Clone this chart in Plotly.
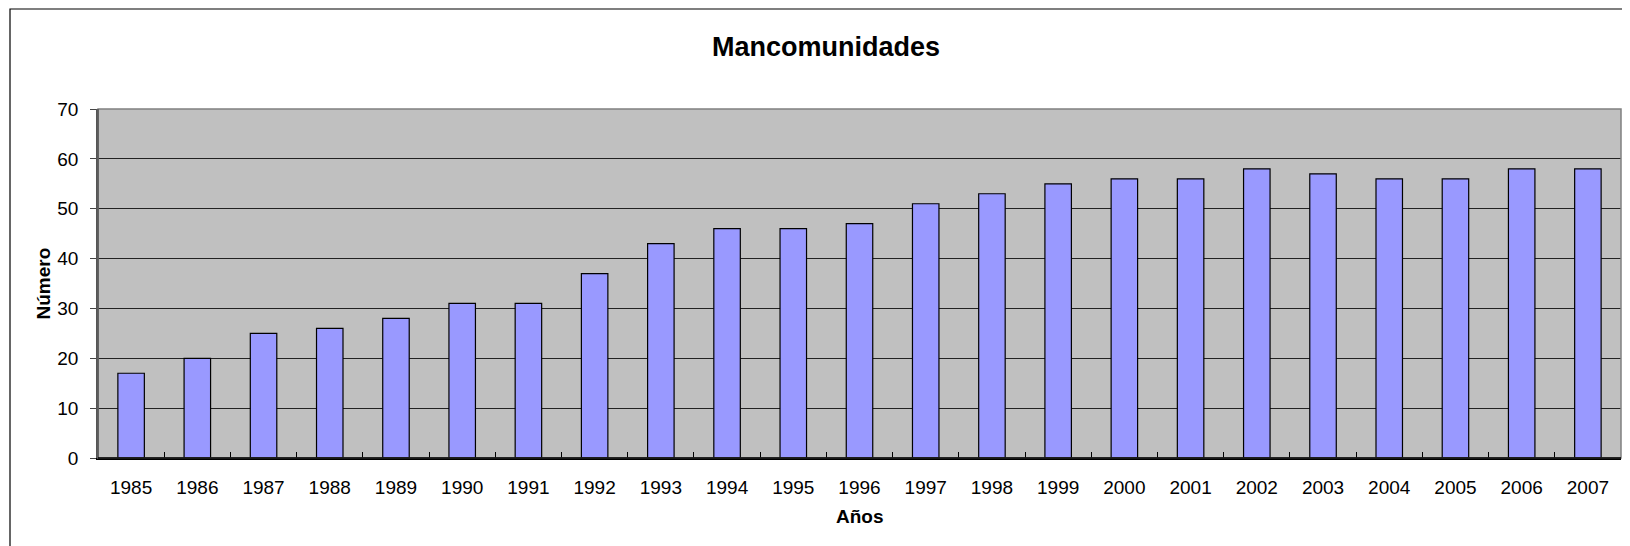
import plotly.graph_objects as go

years = [str(y) for y in range(1985, 2008)]
values = [17, 20, 25, 26, 28, 31, 31, 37, 43, 46, 46, 47, 51, 53, 55, 56, 56, 58, 57, 56, 56, 58, 58]
y_ticks = [0, 10, 20, 30, 40, 50, 60, 70]

FONT = "Liberation Sans, Arial, sans-serif"

# page body has an 8px margin; work in figure coordinates
OFF = 8
W, H = 1630 - 2 * OFF, 546 - OFF
L, T = 98 - OFF, 109 - OFF
R = 1
B = H - (458 - OFF)
pw, ph = W - L - R, H - T - B

fig = go.Figure()
fig.add_trace(go.Bar(
    x=years, y=values,
    marker=dict(color="#9999FF", line=dict(color="#000000", width=1.2)),
    width=0.4,
))

fig.update_layout(
    width=W, height=H,
    margin=dict(l=L, r=R, t=T, b=B, pad=0),
    paper_bgcolor="white",
    plot_bgcolor="#C0C0C0",
    showlegend=False,
    font=dict(family=FONT, color="black", size=19),
    title=dict(text="<b>Mancomunidades</b>", font=dict(size=27, family=FONT, color="black"),
               xref="container", yref="container", x=(826 - OFF) / W, y=1 - (47 - OFF) / H,
               xanchor="center", yanchor="middle"),
    xaxis=dict(
        type="category", ticks="inside", tickson="boundaries", ticklen=6, tickcolor="#000000",
        showline=True, linecolor="#000000", linewidth=1.5, showgrid=False,
        tickfont=dict(size=19), ticklabelstandoff=11,
    ),
    yaxis=dict(
        range=[0, 70], tickvals=y_ticks, ticks="outside", ticklen=6, tickcolor="#444444",
        showline=True, linecolor="#555555", linewidth=1.5,
        showgrid=True, gridcolor="#222222", gridwidth=1, zeroline=False,
        tickfont=dict(size=19), ticklabelstandoff=8,
    ),
    shapes=[
        dict(type="rect", xref="paper", yref="paper", x0=0, x1=1, y0=0, y1=1,
             line=dict(color="#808080", width=1.5), layer="above"),
        dict(type="line", xref="paper", yref="paper", x0=0, x1=0, y0=0, y1=1,
             line=dict(color="#555555", width=1.5), layer="above"),
        dict(type="line", xref="paper", yref="paper", x0=0, x1=1, y0=0, y1=0,
             line=dict(color="#000000", width=1.5), layer="above"),
        dict(type="rect", xref="paper", yref="paper",
             x0=(10 - 98) / pw, x1=1.2, y0=-0.6, y1=(458 - 9) / ph,
             line=dict(color="#000000", width=1.2), layer="below"),
    ],
    annotations=[
        dict(text="<b>Número</b>", xref="paper", yref="paper", x=(43 - 98) / pw, y=0.5,
             textangle=-90, showarrow=False, font=dict(size=19, family=FONT),
             xanchor="center", yanchor="middle"),
        dict(text="<b>Años</b>", xref="paper", yref="paper", x=0.5, y=(458 - 517) / ph,
             showarrow=False, font=dict(size=19, family=FONT),
             xanchor="center", yanchor="middle"),
    ],
)

fig.write_html("out.html")
